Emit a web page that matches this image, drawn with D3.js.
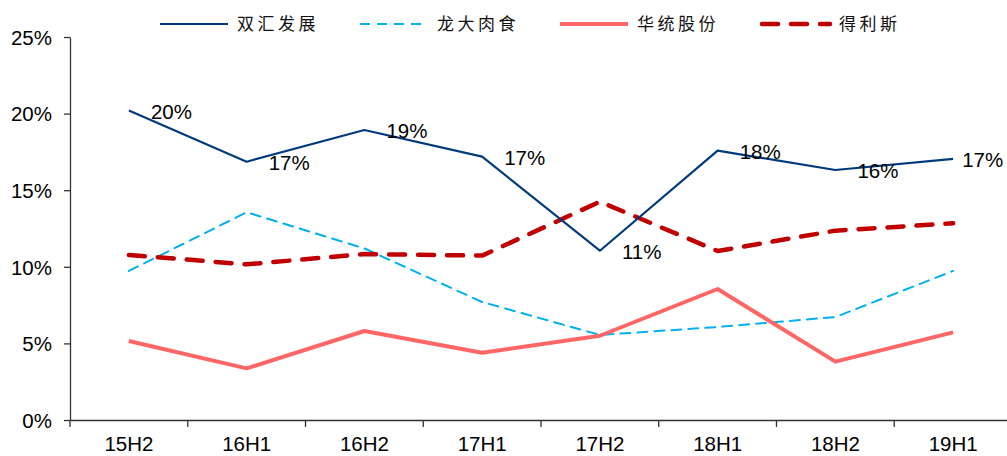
<!DOCTYPE html>
<html><head><meta charset="utf-8">
<script src="https://cdn.jsdelivr.net/npm/d3@7"></script>
<style>body{margin:0;background:#fff}svg{display:block}</style>
</head><body>
<svg id="c" width="1007" height="456"></svg>
<script>
const categories = ["15H2","16H1","16H2","17H1","17H2","18H1","18H2","19H1"];
const shuanghui = [20.2,16.86,18.93,17.19,11.05,17.58,16.32,17.04];
const longda = [9.73,13.56,11.2,7.7,5.55,6.07,6.72,9.73];
const huatong = [5.16,3.37,5.81,4.39,5.5,8.55,3.81,5.72];
const delisi = [10.77,10.16,10.83,10.73,14.25,11.03,12.36,12.84];
const yTicks = [0,5,10,15,20,25];
const seriesNames = ["双汇发展","龙大肉食","华统股份","得利斯"];

const series = [
  {name: seriesNames[0], values: shuanghui, color: "#003A7D", width: 2.2, dash: null},
  {name: seriesNames[1], values: longda, color: "#00B0F0", width: 2, dash: "10,7"},
  {name: seriesNames[2], values: huatong, color: "#FF6666", width: 4, dash: null},
  {name: seriesNames[3], values: delisi, color: "#C00000", width: 4.5, dash: "16,13"}
];

const svg = d3.select("#c");
const x = d3.scaleBand().domain(categories).range([70, 1012]);
const y = d3.scaleLinear().domain([0, 25]).range([420, 37]);
const font = "Liberation Sans, Arial, sans-serif";

// axes
const yAxis = svg.append("g").attr("transform","translate(70,0)")
  .call(d3.axisLeft(y).tickValues(yTicks).tickFormat(d => d + "%").tickSize(6).tickSizeOuter(0));
const xAxis = svg.append("g").attr("transform","translate(0,420)")
  .call(d3.axisBottom(x).tickSize(0).tickSizeOuter(0));
[yAxis, xAxis].forEach(g => {
  g.select(".domain").attr("stroke","#333").attr("stroke-width",1.3);
  g.selectAll("line").attr("stroke","#333").attr("stroke-width",1.3);
  g.selectAll("text").attr("fill","#000").style("font-family",font).style("font-size","20.5px");
});
yAxis.selectAll("text").attr("x",-18).attr("dy","0.36em");
xAxis.selectAll("text").attr("dy","0").attr("y",31);
// x boundary ticks
const bounds = categories.map(c => x(c)).concat([x(categories[categories.length-1]) + x.bandwidth()]);
svg.append("g").selectAll("line").data(bounds).join("line")
  .attr("x1", d => d).attr("x2", d => d).attr("y1", 420).attr("y2", 427)
  .attr("stroke","#333").attr("stroke-width",1.3);

// lines
const line = d3.line().x((d,i) => x(categories[i]) + x.bandwidth()/2).y(d => y(d));
const order = [1,2,3,0];
order.forEach(k => {
  const s = series[k];
  svg.append("path").datum(s.values).attr("d", line)
    .attr("fill","none").attr("stroke", s.color).attr("stroke-width", s.width)
    .attr("stroke-dasharray", s.dash).attr("stroke-linejoin","round")
    .attr("stroke-linecap", s.dash ? "round" : "butt");
});

// labels for 双汇发展
const fmt = d3.format(".0f");
svg.append("g").selectAll("text").data(shuanghui).join("text")
  .attr("x", (d,i) => x(categories[i]) + x.bandwidth()/2 + (i === categories.length-1 ? 9 : 22))
  .attr("y", (d,i) => y(d) + 8)
  .style("font-family", font).style("font-size","20.5px").attr("fill","#000")
  .text(d => fmt(d) + "%");

// legend
const legX = [160, 360, 560, 762];
const leg = svg.append("g");
series.forEach((s,i) => {
  leg.append("line").attr("x1", legX[i]).attr("x2", legX[i] + 68).attr("y1", 24).attr("y2", 24)
    .attr("stroke", s.color).attr("stroke-width", s.width).attr("stroke-dasharray", s.dash)
    .attr("stroke-linecap", s.dash && i===3 ? "round" : "butt");
  leg.append("text").attr("x", legX[i] + 77).attr("y", 30)
    .style("font-family","Noto Sans CJK SC, sans-serif").style("font-size","17px")
    .style("letter-spacing","3.5px").attr("fill","#111").text(s.name);
});
</script>
</body></html>
